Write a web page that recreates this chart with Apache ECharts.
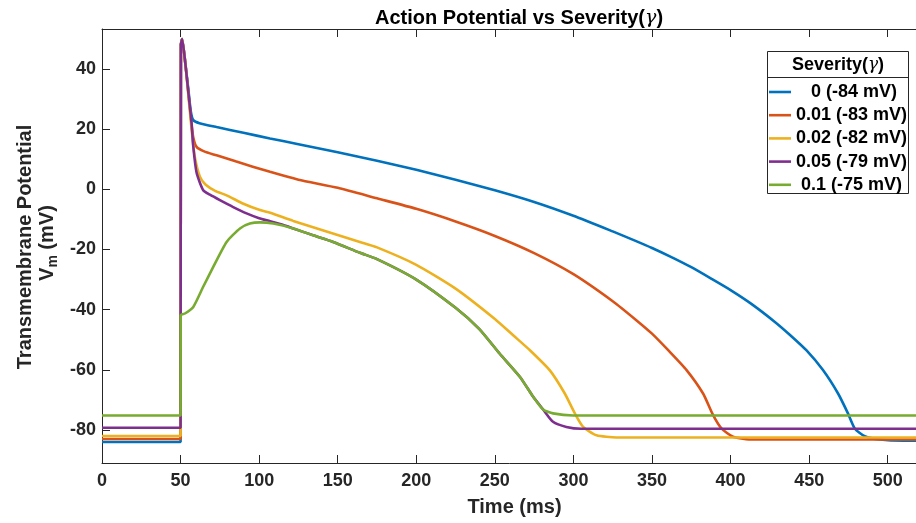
<!DOCTYPE html>
<html><head><meta charset="utf-8">
<script src="https://cdn.jsdelivr.net/npm/echarts@6/dist/echarts.min.js"></script>
<style>html,body{margin:0;padding:0;background:#fff}#c{width:916px;height:523px}</style>
</head><body><div id="c"></div>
<script>
// ---------- data ----------
const seriesNames = ['0 (-84 mV)', '0.01 (-83 mV)', '0.02 (-82 mV)', '0.05 (-79 mV)', '0.1 (-75 mV)'];
const legendLabels = ['   0 (-84 mV)', '0.01 (-83 mV)', '0.02 (-82 mV)', '0.05 (-79 mV)', ' 0.1 (-75 mV)'];
const seriesColors = ['#0072BD', '#D95319', '#EDB120', '#7E2F8E', '#77AC30'];
const xTicks = [0, 50, 100, 150, 200, 250, 300, 350, 400, 450, 500];
const yTicks = [-80, -60, -40, -20, 0, 20, 40];

const tBlue = [0, 50, 50.2, 51, 53, 55, 56.5, 58.1, 62, 72.9, 90, 106.9, 125, 150, 175, 200, 225, 250, 275, 300, 325, 338, 350, 363, 375, 388, 400, 413, 428, 438, 448.2, 458.8, 468.4, 474.7, 479, 485.4, 494.9, 510, 525];
const vBlue = [-84, -84, 48, 50, 42, 33, 26, 23, 22, 20.7, 18.8, 16.9, 15, 12.3, 9.5, 6.5, 3.2, -0.3, -4.2, -8.8, -14, -16.8, -19.5, -22.7, -25.9, -29.8, -33.5, -38, -44, -48.5, -53.5, -60.1, -67.9, -74.5, -79.5, -82.1, -83.2, -83.6, -83.6];

const tOrange = [0, 50, 50.2, 51, 53, 55, 56.5, 58, 60.2, 65, 72.9, 85, 106.9, 125, 150, 175, 200, 225, 250, 275, 300, 325, 340, 350, 360.3, 372, 382.5, 388.9, 394.2, 401.6, 414.3, 525];
const vOrange = [-83, -83, 48, 50, 42, 32, 24, 17.5, 14.1, 12.6, 11.3, 9.3, 5.8, 3.2, 0.5, -3, -6.5, -10.7, -15.5, -21.2, -28.2, -37.2, -43.5, -48, -53.5, -60.1, -67.9, -75.1, -79.5, -82.3, -83.2, -83.2];

const tYellow = [0, 50, 50.2, 51, 53, 55, 57, 59, 62.3, 66, 72, 79.3, 90, 100.5, 107, 121.7, 142.9, 164.1, 175, 200, 225, 250, 262, 272.3, 285, 294.5, 300.9, 306.2, 314.7, 327.4, 525];
const vYellow = [-82, -82, 48, 50, 42, 31, 20, 11, 4.2, 1.5, -0.5, -2, -4.8, -6.9, -7.8, -10.5, -14, -17.5, -19.3, -25.1, -33, -43.1, -48.7, -53.5, -60.2, -67.9, -74.5, -79, -81.8, -82.5, -82.5];

const tPurple = [0, 50, 50.2, 51, 53, 55, 57, 58.1, 60.2, 64.4, 68.7, 75, 83.5, 92, 100, 107, 115, 121.7, 134.4, 147.1, 164.1, 175, 200, 225, 240, 253, 266, 274.4, 280.7, 287, 295.5, 305, 525];
const vPurple = [-79.3, -79.3, 48, 50, 42, 32, 22, 14.1, 5.5, -0.3, -1.8, -3.6, -5.9, -8, -9.6, -10.6, -11.8, -13, -15.3, -17.5, -21.1, -23.2, -30, -39.4, -46.4, -54.6, -62.4, -69, -73.2, -77.3, -79, -79.6, -79.6];

const tGreen = [0, 50, 50.1, 52.8, 58.1, 64.4, 70.8, 79.3, 87.8, 94.1, 100.5, 109, 121.7, 134.4, 147.1, 164.1, 175, 200, 225, 240, 253, 266, 274.4, 280.7, 287, 299.8, 525];
const vGreen = [-75.2, -75.2, -41.9, -41.3, -39.1, -32.4, -25.8, -17.5, -13, -11.4, -11, -11.4, -13, -15.3, -17.5, -21.1, -23.2, -30, -39.4, -46.4, -54.6, -62.4, -69, -73.2, -74.5, -75.2, -75.2];

const seriesT = [tBlue, tOrange, tYellow, tPurple, tGreen];
const seriesV = [vBlue, vOrange, vYellow, vPurple, vGreen];

// ---------- chart ----------
const FONT = '"Liberation Sans", Arial, Helvetica, sans-serif';
const AX = '#262626';
const chart = echarts.init(document.getElementById('c'), null, {renderer: 'canvas'});

const zip = (t, v) => t.map((x, i) => [x, v[i]]);
const labelMap = {};
seriesNames.forEach((n, i) => labelMap[n] = legendLabels[i]);

const gridW = 825;
const series = seriesNames.map((n, i) => ({
  name: n,
  type: 'line',
  xAxisIndex: 0, yAxisIndex: 0,
  data: zip(seriesT[i], seriesV[i]),
  showSymbol: false, symbol: 'none',
  smooth: 0.2,
  clip: true,
  lineStyle: {color: seriesColors[i], width: 2.6},
  itemStyle: {color: seriesColors[i]},
  emphasis: {disabled: true}
}));

const tickStyle = {show: true, inside: true, length: 8, lineStyle: {color: AX, width: 1}};
const option = {
  animation: false,
  backgroundColor: '#fff',
  title: {
    text: 'Action Potential vs Severity({g|γ})',
    left: 514, top: 3, textAlign: 'center',
    textStyle: {
      fontFamily: FONT, fontWeight: 'bold', fontSize: 20, color: '#000',
      rich: {g: {fontFamily: '"DejaVu Serif", serif', fontStyle: 'italic', fontWeight: 'normal', fontSize: 19, color: '#000'}}
    }
  },
  grid: {left: 102, top: 29, width: gridW, height: 434, outerBoundsMode: 'none', containLabel: false},
  xAxis: [{
    type: 'value', min: 0, max: 525, position: 'bottom',
    name: 'Time (ms)', nameLocation: 'middle', nameGap: 34,
    nameTextStyle: {fontFamily: FONT, fontWeight: 'bold', fontSize: 20, color: AX},
    axisLine: {show: true, onZero: false, lineStyle: {color: AX, width: 1}},
    axisTick: Object.assign({customValues: xTicks}, tickStyle),
    axisLabel: {customValues: xTicks, margin: 9, fontFamily: FONT, fontWeight: 'bold', fontSize: 18, color: AX},
    splitLine: {show: false}
  }, {
    type: 'value', min: 0, max: 525, position: 'top',
    axisLine: {show: true, onZero: false, lineStyle: {color: AX, width: 1}},
    axisTick: Object.assign({customValues: xTicks}, tickStyle),
    axisLabel: {show: false},
    splitLine: {show: false}
  }],
  yAxis: [{
    type: 'value', min: -91, max: 53.3, position: 'left',
    axisLine: {show: true, onZero: false, lineStyle: {color: AX, width: 1}},
    axisTick: Object.assign({customValues: yTicks}, tickStyle),
    axisLabel: {customValues: yTicks, margin: 6, fontFamily: FONT, fontWeight: 'bold', fontSize: 18, color: AX},
    splitLine: {show: false}
  }, {
    type: 'value', min: -91, max: 53.3, position: 'right',
    axisLine: {show: true, onZero: false, lineStyle: {color: AX, width: 1}},
    axisTick: Object.assign({customValues: yTicks}, tickStyle),
    axisLabel: {show: false},
    splitLine: {show: false}
  }],
  legend: {
    show: true, orient: 'vertical', left: 769, top: 83, padding: 0,
    itemWidth: 22, itemHeight: 18, itemGap: 5.2,
    icon: 'path://M0,0H22V2.6H0Z',
    selectedMode: false, z: 6,
    data: seriesNames,
    formatter: (n) => labelMap[n],
    textStyle: {fontFamily: FONT, fontWeight: 'bold', fontSize: 18, lineHeight: 18, color: '#000'}
  },
  graphic: [
    {type: 'rect', z: 4, shape: {x: 767.5, y: 51.5, width: 141, height: 142},
     style: {fill: '#fff', stroke: '#262626', lineWidth: 1}},
    {type: 'line', z: 5, shape: {x1: 767.5, y1: 77.5, x2: 908.5, y2: 77.5},
     style: {stroke: '#262626', lineWidth: 1}},
    {type: 'text', z: 5, x: 838, y: 65,
     style: {text: 'Severity({g|γ})', textAlign: 'center', textVerticalAlign: 'middle',
       font: 'bold 18px ' + FONT, fill: '#000',
       rich: {g: {fontFamily: '"DejaVu Serif", serif', fontStyle: 'italic', fontWeight: 'normal', fontSize: 17, fill: '#000'}}}},
    // y axis title, two lines, rotated
    {type: 'text', z: 5, x: 25, y: 247, rotation: Math.PI / 2,
     style: {text: 'Transmembrane Potential', textAlign: 'center', textVerticalAlign: 'middle',
       font: 'bold 20px ' + FONT, fill: AX}},
    {type: 'text', z: 5, x: 47, y: 281, rotation: Math.PI / 2,
     style: {text: 'V', textAlign: 'left', textVerticalAlign: 'middle', font: 'bold 20px ' + FONT, fill: AX}},
    {type: 'text', z: 5, x: 53, y: 267.6, rotation: Math.PI / 2,
     style: {text: 'm', textAlign: 'left', textVerticalAlign: 'middle', font: 'bold 14px ' + FONT, fill: AX}},
    {type: 'text', z: 5, x: 47, y: 255.2, rotation: Math.PI / 2,
     style: {text: ' (mV)', textAlign: 'left', textVerticalAlign: 'middle', font: 'bold 20px ' + FONT, fill: AX}}
  ],
  series: series
};
chart.setOption(option);
</script>
</body></html>
